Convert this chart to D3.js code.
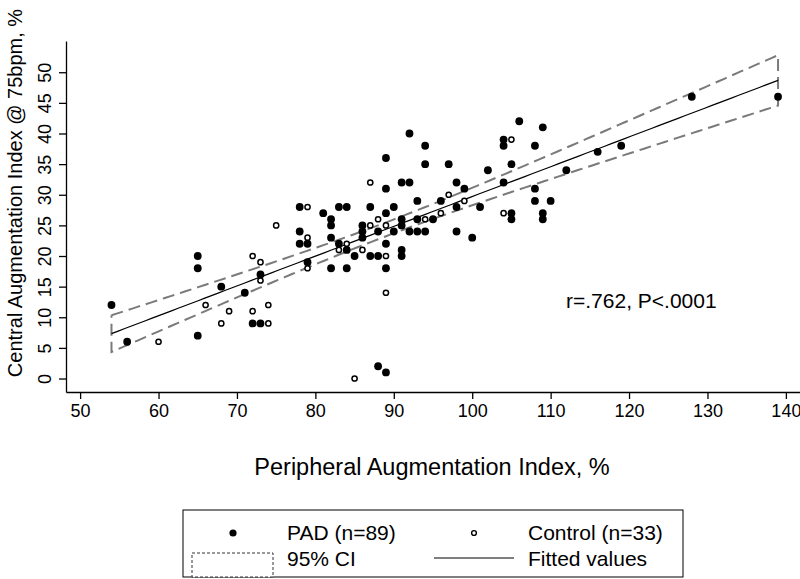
<!DOCTYPE html>
<html>
<head>
<meta charset="utf-8">
<script src="https://cdn.jsdelivr.net/npm/d3@7"></script>
<style>
	body { margin: 0; background: #fff; }
	svg { display: block; font-family: "Liberation Sans", Arial, Helvetica, sans-serif; }
</style>
</head>
<body>
<svg width="800" height="579"></svg>
<script>
// PAD group (filled markers): [peripheral AIx, central AIx @75bpm]
const padPoints = [
	[54, 12], [56, 6], [65, 20], [65, 18], [65, 7], [68, 15], [71, 14], [72, 9], [73, 9], [73, 17],
	[78, 28], [78, 24], [78, 22], [79, 22], [79, 19], [81, 27], [82, 26], [82, 25], [82, 23], [82, 18],
	[83, 28], [84, 28], [83, 22], [84, 21], [84, 18], [85, 20], [86, 25], [86, 24], [86, 23], [87, 28],
	[87, 20], [88, 24], [88, 20], [88, 2], [89, 36], [89, 31], [89, 27], [89, 22], [89, 18], [89, 1],
	[90, 28], [90, 24], [91, 32], [92, 32], [92, 40], [91, 26], [91, 25], [91, 21], [91, 20], [92, 24],
	[93, 29], [93, 26], [93, 24], [94, 38], [94, 35], [94, 24], [95, 26], [96, 29], [97, 35], [98, 32],
	[98, 28], [98, 24], [99, 31], [100, 23], [101, 28], [102, 34], [104, 39], [104, 38], [104, 32], [105, 35],
	[105, 27], [105, 26], [106, 42], [108, 38], [108, 31], [108, 29], [109, 41], [109, 27], [109, 26], [110, 29],
	[112, 34], [116, 37], [119, 38], [128, 46], [139, 46]
];

// Control group (hollow markers)
const controlPoints = [
	[60, 6], [66, 12], [68, 9], [69, 11], [72, 20], [72, 11], [73, 19], [73, 16], [74, 12], [74, 9],
	[75, 25], [79, 28], [79, 23], [79, 18], [83, 21], [84, 22], [85, 0], [86, 21], [87, 32], [87, 25],
	[88, 26], [89, 25], [89, 20], [89, 14], [94, 26], [96, 27], [97, 30], [99, 29], [104, 27], [105, 39]
];

const xTicks = [50, 60, 70, 80, 90, 100, 110, 120, 130, 140];
const yTicks = [0, 5, 10, 15, 20, 25, 30, 35, 40, 45, 50];

const xTitle = 'Peripheral Augmentation Index, %';
const yTitle = 'Central Augmentation Index @ 75bpm, %';
const statText = 'r=.762, P<.0001';
const legendLabels = ['PAD (n=89)', 'Control (n=33)', '95% CI', 'Fitted values'];

const tCrit = 1.98; // t(0.975, n-2)

const svg = d3.select('svg');

const x = d3.scaleLinear().domain([48.2, 141.8]).range([66, 800]);
const y = d3.scaleLinear().domain([-2.2, 55.1]).range([392, 41]);

// linear fit + CI of the mean, computed from all points
const all = padPoints.concat(controlPoints);
const n = all.length;
const mx = d3.mean(all, d => d[0]);
const my = d3.mean(all, d => d[1]);
const sxx = d3.sum(all, d => (d[0] - mx) ** 2);
const sxy = d3.sum(all, d => (d[0] - mx) * (d[1] - my));
const slope = sxy / sxx;
const icpt = my - slope * mx;
const sse = d3.sum(all, d => (d[1] - icpt - slope * d[0]) ** 2);
const s = Math.sqrt(sse / (n - 2));
const [xmin, xmax] = d3.extent(all, d => d[0]);

const fitGrid = d3.range(0, 101).map(i => xmin + (xmax - xmin) * i / 100);
const fitRows = fitGrid.map(v => {
	const yh = icpt + slope * v;
	const se = s * Math.sqrt(1 / n + (v - mx) ** 2 / sxx);
	return {x: v, y: yh, lo: yh - tCrit * se, hi: yh + tCrit * se};
});

// CI outline (closed, dashed)
const ciPath = d3.line().x(d => x(d[0])).y(d => y(d[1]));
const ciPts = fitRows.map(d => [d.x, d.hi]).concat(fitRows.slice().reverse().map(d => [d.x, d.lo]));
ciPts.push(ciPts[0]);
svg.append('path')
	.attr('d', ciPath(ciPts))
	.attr('fill', 'none')
	.attr('stroke', '#7a7a7a')
	.attr('stroke-width', 2)
	.attr('stroke-dasharray', '12,6');

svg.append('path')
	.attr('d', d3.line().x(d => x(d.x)).y(d => y(d.y))(fitRows))
	.attr('fill', 'none')
	.attr('stroke', '#000')
	.attr('stroke-width', 1.2);

// markers
svg.append('g').selectAll('circle')
	.data(padPoints)
	.enter().append('circle')
	.attr('cx', d => x(d[0]))
	.attr('cy', d => y(d[1]))
	.attr('r', 3.9)
	.attr('fill', '#000');

svg.append('g').selectAll('circle')
	.data(controlPoints)
	.enter().append('circle')
	.attr('cx', d => x(d[0]))
	.attr('cy', d => y(d[1]))
	.attr('r', 2.6)
	.attr('fill', '#fff')
	.attr('stroke', '#000')
	.attr('stroke-width', 1.5);

// axes
const xAxis = svg.append('g')
	.attr('transform', 'translate(0,392)')
	.call(d3.axisBottom(x).tickValues(xTicks).tickSize(7).tickSizeOuter(0).tickPadding(5));
xAxis.select('.domain').attr('stroke-width', 1.3);
xAxis.selectAll('.tick line').attr('stroke-width', 1.3);
xAxis.selectAll('.tick text').attr('font-size', 18).attr('font-family', null).attr('fill', '#000');

const yAxis = svg.append('g')
	.attr('transform', 'translate(66,0)')
	.call(d3.axisLeft(y).tickValues(yTicks).tickSize(7).tickSizeOuter(0));
yAxis.select('.domain').attr('stroke-width', 1.3);
yAxis.selectAll('.tick line').attr('stroke-width', 1.3);
yAxis.selectAll('.tick text').remove();
yAxis.selectAll('.tick').append('text')
	.attr('transform', 'translate(-15,0) rotate(-90)')
	.attr('text-anchor', 'middle')
	.attr('font-size', 18)
	.attr('fill', '#000')
	.text(d => d);

// titles
svg.append('text')
	.attr('x', 432)
	.attr('y', 475)
	.attr('text-anchor', 'middle')
	.attr('font-size', 23.5)
	.text(xTitle);

svg.append('text')
	.attr('transform', 'translate(22,193) rotate(-90)')
	.attr('text-anchor', 'middle')
	.attr('font-size', 20)
	.text(yTitle);

svg.append('text')
	.attr('x', 566)
	.attr('y', 308)
	.attr('font-size', 21)
	.text(statText);

// legend
const lg = svg.append('g');
lg.append('rect')
	.attr('x', 183).attr('y', 510).attr('width', 500).attr('height', 67)
	.attr('fill', '#fff').attr('stroke', '#000').attr('stroke-width', 1);

lg.append('circle').attr('cx', 233).attr('cy', 533).attr('r', 3.6).attr('fill', '#000');
lg.append('circle').attr('cx', 474).attr('cy', 533).attr('r', 2.4)
	.attr('fill', '#fff').attr('stroke', '#000').attr('stroke-width', 1.4);
lg.append('rect')
	.attr('x', 192).attr('y', 553).attr('width', 81).attr('height', 24)
	.attr('fill', '#fff').attr('stroke', '#333').attr('stroke-width', 1).attr('stroke-dasharray', '3,2');
lg.append('line')
	.attr('x1', 434).attr('x2', 514).attr('y1', 558).attr('y2', 558)
	.attr('stroke', '#000').attr('stroke-width', 1);

const legendPos = [[287, 540], [528, 540], [287, 566], [528, 566]];
lg.selectAll('text.lab')
	.data(legendLabels)
	.enter().append('text')
	.attr('class', 'lab')
	.attr('x', (d, i) => legendPos[i][0])
	.attr('y', (d, i) => legendPos[i][1])
	.attr('font-size', 21)
	.text(d => d);
</script>
</body>
</html>
